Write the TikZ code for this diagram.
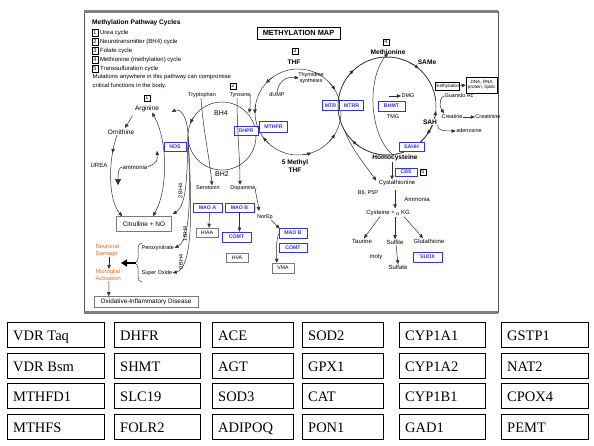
\documentclass[tikz,border=0pt]{standalone}
\usepackage{fontspec}
\setmainfont{Liberation Serif}
\newfontfamily\mapsans{Liberation Sans}
\usetikzlibrary{arrows.meta, decorations.markings}

\definecolor{enzBlue}{HTML}{3030F5}
\definecolor{barGry}{HTML}{7F7F7F}
\definecolor{prodGry}{HTML}{7A7A7A}
\definecolor{damOrg}{HTML}{F26A21}
\definecolor{lineGry}{HTML}{303030}

\begin{document}
\begin{tikzpicture}[x=1pt, y=-1pt,
  lbl/.style={font=\mapsans\fontsize{6}{7}\selectfont, inner sep=0.4pt, align=center},
  sml/.style={font=\mapsans\fontsize{5.5}{6.2}\selectfont, inner sep=0.4pt, align=center},
  hdr/.style={font=\mapsans\fontsize{6.6}{7.4}\selectfont\bfseries, inner sep=0.4pt, align=center},
  enz/.style={rectangle, draw=enzBlue, fill=white, line width=0.8pt, text=enzBlue,
              font=\mapsans\fontsize{5.2}{6}\selectfont\bfseries, inner sep=0pt, minimum height=9},
  prod/.style={rectangle, draw=prodGry, fill=white, line width=0.5pt,
               font=\mapsans\fontsize{5.2}{6}\selectfont, inner sep=0pt, minimum height=9},
  num/.style={rectangle, draw, line width=0.4pt, font=\mapsans\fontsize{5.5}{6}\selectfont,
              inner sep=0pt, minimum width=6, minimum height=6.5},
  ln/.style={line width=0.5pt, draw=lineGry},
  arr/.style={ln, -{Triangle[length=4pt,width=3.4pt]}},
  bigarr/.style={ln, -{Triangle[length=6pt,width=6pt]}},
  midtip/.style={postaction={decorate}, decoration={markings,
                 mark=at position #1 with {\arrow{Triangle[length=4pt,width=3.4pt]}}}},
  gene/.style={rectangle, draw, line width=0.8pt, minimum height=25, inner sep=0pt},
  genetxt/.style={font=\fontsize{14.5}{16}\selectfont, inner sep=0pt, anchor=base west},
]
\fill[white] (0,0) rectangle (594,445);
\useasboundingbox (0,0) rectangle (594,445);

% ---- Map frame ----
\draw[barGry!70!black, line width=0.8pt] (84,11) rectangle (498,312);
\draw[barGry, line width=3pt] (84,11) -- (498,11);
\draw[barGry, line width=3pt] (84,312) -- (498,312);

% ---- Legend ----
\node[hdr, anchor=west] (legtitle) at (91.5,23) {Methylation Pathway Cycles};
\foreach \n/\t/\yy in {1/Urea cycle/32.5, 2/Neurotransmitter (BH4) cycle/41.5, 3/Folate cycle/50.5,
                       4/Methionine (methylation) cycle/59.5, 5/Transsulfuration cycle/68.5}{
  \node[num] (leg\n) at (95,\yy) {\n};
  \node[lbl, anchor=west] (legtxt\n) at (99.5,\yy) {\t};
}
\node[lbl, anchor=north west, align=left, font=\mapsans\fontsize{5.9}{8.7}\selectfont] (legnote) at (92,73.5)
   {Mutations anywhere in this pathway can compromise\\critical functions in the body.};

\node[draw, line width=0.6pt, font=\mapsans\fontsize{7.4}{8}\selectfont\bfseries, minimum width=83,
      minimum height=12, inner sep=0pt] (title) at (298.5,33) {METHYLATION MAP};

% ---- Urea cycle ----
\node[num] (c1) at (147,98) {1};
\node[lbl, font=\mapsans\fontsize{6.5}{7}\selectfont] (arg) at (147,109) {Arginine};
\node[lbl, font=\mapsans\fontsize{6.5}{7}\selectfont] (orn) at (121,132) {Ornithine};
\node[lbl] (urea) at (99,165) {UREA};
\node[lbl] (amm) at (135,167) {ammonia};
\node[enz, minimum width=22] (nos) at (175,146.5) {NOS};
\node[rectangle, draw=prodGry, line width=0.6pt, minimum width=55, minimum height=15, inner sep=0pt,
      font=\mapsans\fontsize{6.5}{7}\selectfont] (cit) at (144,224) {Citrulline + NO};
\coordinate (ammtop) at (157,151);
\coordinate (ammbot) at (118,185);

\draw[arr] ([shift={(-2,3)}]arg.south west) -- ([shift={(4,-1)}]orn.north);
\draw[arr, midtip=0.22] ([xshift=-4]orn.south) .. controls (108,160) and (108,200) .. ([xshift=6]cit.north west);
\draw[ln, {Triangle[length=4pt,width=3.4pt]}-{Triangle[length=4pt,width=3.4pt]}]
   ([xshift=5]arg.south) .. controls (168,140) and (168,190) .. ([xshift=9]cit.north);
\draw[ln, {Triangle[length=4pt,width=3.4pt]}-] (ammtop) .. controls (158,166) and (150,164) .. (amm.east);
\draw[bigarr] (amm.west) .. controls (119,167) and (118,172) .. (ammbot);

% ---- BH4 cycle ----
\coordinate (bhc) at (222,136);
\draw[ln] (bhc) circle[radius=34];
\draw[arr] (bhc) ++(214:34) arc[start angle=214, end angle=202, radius=34];
\node[num] (c2) at (233,86) {2};
\node[sml] (tryp) at (202,95) {Tryptophan};
\node[sml] (tyro) at (240,95) {Tyrosine};
\node[lbl, font=\mapsans\fontsize{7}{8}\selectfont] (bh4) at (221,113) {BH4};
\node[lbl, font=\mapsans\fontsize{7}{8}\selectfont] (bh2) at (222,174) {BH2};
\node[enz, minimum width=24] (dhpr) at (246,131) {DHPR};
\coordinate (bhl) at (188,137);

\draw[arr] (tyro.east) .. controls (249,95) and (251,104) .. ([shift={(27,-23)}]bhc);
\draw[arr] (bhl) .. controls (188,116) and (180,108) .. ([shift={(12,3)}]arg.east);
\draw[arr] (bhl) .. controls (187,175) and (187,205) .. ([shift={(1,-2)}]cit.north east);
\node[sml, rotate=90] (bh4a) at (180.5,191) {2 BH4};

% ---- Neurotransmitters ----
\node[sml] (sero) at (208,188) {Serotonin};
\node[sml] (dopa) at (243,188) {Dopamine};
\node[enz, minimum width=29] (maoa) at (207.5,207.5) {MAO A};
\node[enz, minimum width=29] (maob) at (239.5,207.5) {MAO B};
\node[prod, minimum width=22] (hiaa) at (207,232.5) {HIAA};
\node[enz, minimum width=29, minimum height=10] (comt) at (236.5,237) {COMT};
\node[prod, minimum width=22] (hva) at (237,257.5) {HVA};
\node[sml] (norep) at (265,217) {NorEp};
\node[enz, minimum width=28, minimum height=10] (maobb) at (293,233) {MAO B};
\node[enz, minimum width=28] (comtb) at (293,247.5) {COMT};
\node[prod, minimum width=22, minimum height=10] (vma) at (283,268) {VMA};

\draw[arr] ([xshift=-1]tryp.south) .. controls (203,130) and (210,160) .. ([xshift=4]sero.north);
\draw[arr] ([xshift=-3]tyro.south) .. controls (237,130) and (240,160) .. ([xshift=-3]dopa.north);
\draw[arr] ([xshift=2]maoa.south) -- ([xshift=2]hiaa.north);
\draw[arr] (maob.south) -- ([xshift=3]comt.north);
\draw[arr] (dopa.east) .. controls (254,189) and (257,196) .. ([shift={(-6,-3)}]norep.north);
\draw[arr] ([shift={(-2,0)}]norep.south east) -- ([shift={(1,1)}]maobb.north west);
\draw[arr] ([shift={(0,1)}]maobb.west) .. controls (276,242) and (276,252) .. ([xshift=-6]vma.north);

% ---- Damage ----
\node[lbl, text=damOrg, align=left, anchor=north west, font=\mapsans\fontsize{5.8}{6.6}\selectfont]
   (neuro) at (95,244) {Neuronal\\Damage};
\node[lbl, text=damOrg, align=left, anchor=north west, font=\mapsans\fontsize{5.8}{6.6}\selectfont]
   (micro) at (95,269) {Microglial\\Activation};
\node[rectangle, draw=prodGry, line width=0.6pt, minimum width=104, minimum height=11, inner sep=0pt,
      font=\mapsans\fontsize{6.4}{7}\selectfont] (oxid) at (146,302) {Oxidative-Inflammatory Disease};
\node[sml, anchor=west] (perox) at (141,248) {Peroxynitrate};
\node[sml, anchor=west] (superox) at (141,273) {Super Oxide};
\coordinate (brc) at (134,263);
\coordinate (dmgtip) at (121,263);

\draw[arr] (bhl) .. controls (191,200) and (190,240) .. (perox.east);
\draw[arr] (bhl) .. controls (193,215) and (192,268) .. (superox.east);
\node[sml, rotate=90] (bh4b) at (185,234) {1 BH4};
\node[sml, rotate=90] (bh4c) at (181,262) {0 BH4};
\draw[arr] ([xshift=14]neuro.south west) -- ([xshift=14]micro.north west);
\draw[arr] ([xshift=14]micro.south west) -- ([xshift=15]oxid.north west);
\draw[ln] (142,243) to[out=180,in=90] (138,248) -- (138,258) to[out=270,in=0] (brc)
          to[out=0,in=90] (138,268) -- (138,277) to[out=270,in=180] (142,282);
\draw[line width=1.8pt, -{Triangle[length=6pt,width=7pt]}] ([xshift=2]brc) -- (dmgtip);

% ---- Folate cycle ----
\coordinate (fol) at (298,112);
\draw[ln] (fol) circle[radius=43];
\draw[arr] (fol) ++(234:43) arc[start angle=234, end angle=222, radius=43];
\draw[arr] (fol) ++(190:43) arc[start angle=190, end angle=178, radius=43];
\draw[arr] (fol) ++(84:43) arc[start angle=84, end angle=72, radius=43];
\draw[arr] (fol) ++(43:43) arc[start angle=43, end angle=31, radius=43];
\draw[arr] (fol) ++(132:43) arc[start angle=132, end angle=144, radius=43];
\draw[arr] (fol) ++(317:43) arc[start angle=317, end angle=329, radius=43];
\node[num] (c3) at (295,51) {3};
\node[hdr] (thf) at (294,62) {THF};
\node[sml] (thy) at (311,78) {Thymidine\\synthesis};
\node[sml] (dump) at (277,95) {dUMP};
\node[enz, minimum width=28, minimum height=11] (mthfr) at (273.5,127) {MTHFR};
\node[hdr] (mthf) at (295,166) {5 Methyl\\THF};
\node[enz, minimum width=17, minimum height=10] (mtr) at (330.5,105.5) {MTR};
\node[enz, minimum width=24, minimum height=10] (mtrr) at (351.5,105.5) {MTRR};
\draw[arr] (dump.north) .. controls (278,83) and (285,76) .. ([xshift=1]thy.west);

% ---- Methionine cycle ----
\coordinate (metc) at (387,106);
\draw[ln] (metc) circle[radius=49];
\draw[arr] (metc) ++(215:49) arc[start angle=215, end angle=227, radius=49];
\draw[arr] (metc) ++(298:49) arc[start angle=298, end angle=310, radius=49];
\draw[arr] (metc) ++(354:49) arc[start angle=354, end angle=6, radius=49];
\draw[arr] (metc) ++(23:49) arc[start angle=23, end angle=35, radius=49];
\draw[arr] (metc) ++(123:49) arc[start angle=123, end angle=135, radius=49];
\node[num] (c4) at (386,42) {4};
\node[hdr] (meth) at (388,52) {Methionine};
\node[hdr] (same) at (427,62) {SAMe};
\node[hdr, fill=white] (sah) at (430,122) {SAH};
\node[prod, draw=black, minimum width=23, minimum height=8, font=\mapsans\fontsize{4.6}{5}\selectfont]
   (methyl) at (447.5,86) {methylation};
\node[prod, draw=black, minimum width=31, minimum height=16, align=center,
      font=\mapsans\fontsize{4.6}{5.4}\selectfont] (dna) at (481.5,85) {DNA, RNA\\protein, lipids};
\node[sml] (guan) at (459,96) {Guanido Ac};
\node[sml] (creat) at (452,117) {Creatine};
\node[sml] (creatn) at (488,117) {Creatinine};
\node[sml] (aden) at (469,131) {adenosine};
\node[enz, minimum width=27, minimum height=10] (bhmt) at (391.5,106) {BHMT};
\node[sml] (dmg) at (408,96) {DMG};
\node[sml] (tmg) at (393,117) {TMG};
\node[enz, minimum width=25] (sahh) at (411.5,146.5) {SAHH};
\node[hdr] (hcy) at (395,158) {Homocysteine};

\draw[arr] (methyl.east) -- (dna.west);
\draw[arr] (guan.west) .. controls (441,96) and (438,104) .. ([shift={(3,-1)}]creat.north west);
\draw[arr] (creat.east) -- (creatn.west);
\draw[arr] (sah.south east) .. controls (437,131) and (445,131) .. (aden.west);
\draw[arr] ([xshift=-3]hcy.north) .. controls (370,135) and (366,80) .. ([yshift=2]meth.south);
\draw[arr] ([xshift=-12]dmg.west) -- (dmg.west);

% ---- Transsulfuration ----
\node[enz, minimum width=22, minimum height=8] (cbs) at (406,172) {CBS};
\node[num] (c5) at (423,172) {5};
\node[lbl] (cysta) at (397,183) {Cystathionine};
\node[sml] (b6) at (368,193) {B6, P5P};
\node[lbl] (ammb) at (417,199) {Ammonia};
\node[lbl] (cys) at (388,213) {Cysteine + \raisebox{-1.6pt}{\fontsize{5}{5}\selectfont α} KG};
\node[lbl] (taur) at (362,241) {Taurine};
\node[lbl] (sulfite) at (395,242) {Sulfite};
\node[lbl] (glut) at (429,241) {Glutathione};
\node[lbl] (moly) at (376,257) {moly};
\node[lbl] (sulfate) at (398,267) {Sulfate};
\node[enz, minimum width=29, minimum height=10] (suox) at (427.5,257) {SUOX};

\draw[arr] (metc) ++(150:49) .. controls (352,150) and (366,166) .. ([shift={(-2,1)}]cysta.north west);
\draw[arr] ([xshift=-3]hcy.south) -- ([xshift=-5]cysta.north);
\draw[arr] ([shift={(-2,4)}]cysta.south) -- ([shift={(7,-1)}]cys.north);
\draw[arr] ([xshift=-8]cys.south) -- ([xshift=2]taur.north);
\draw[arr] ([xshift=7]cys.south) -- (sulfite.north);
\draw[arr] ([xshift=16]cys.south) -- ([xshift=-6]glut.north);
\draw[arr] ([xshift=1]sulfite.south) -- (sulfate.north);

% ---- Gene boxes ----
\foreach \gx/\gw/\ga/\gb/\gc/\gd [count=\i] in {7/97/VDR Taq/VDR Bsm/MTHFD1/MTHFS,
      114/86/DHFR/SHMT/SLC19/FOLR2, 212/81/ACE/AGT/SOD3/ADIPOQ, 302/81/SOD2/GPX1/CAT/PON1,
      399/86/CYP1A1/CYP1A2/CYP1B1/GAD1, 501/87/GSTP1/NAT2/CPOX4/PEMT}{
  \foreach \gy/\gt [count=\j] in {322/\ga, 353/\gb, 383/\gc, 414/\gd}{
    \node[gene, minimum width=\gw] (g\i-\j) at (\gx+\gw/2, \gy+12.5) {};
    \node[genetxt] (t\i-\j) at (\gx+6, \gy+18.5) {\gt};
  }
}
\end{tikzpicture}
\end{document}
